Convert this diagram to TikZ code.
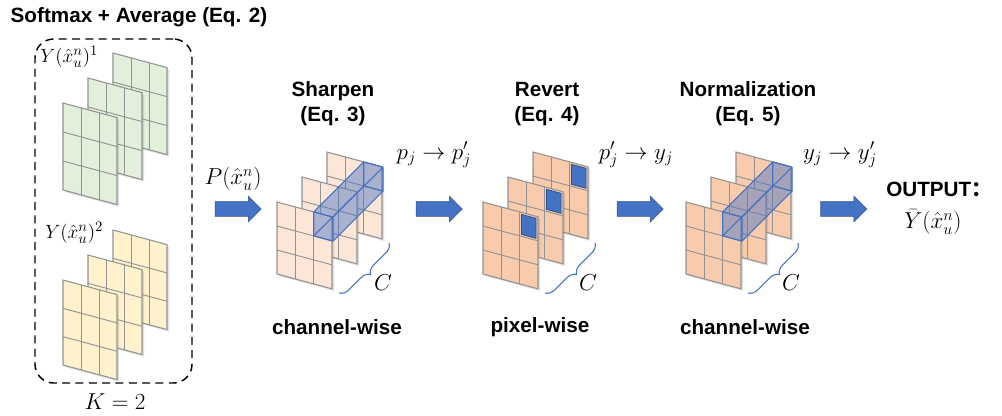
\documentclass[tikz,border=0pt]{standalone}
\usepackage{fontspec}
\setsansfont{Liberation Sans}
\newfontfamily\cjk{Noto Sans CJK SC}
\usetikzlibrary{shapes.arrows,shadows,decorations.pathreplacing}

\definecolor{sheetgreen}{HTML}{E2EFDA}
\definecolor{sheetyellow}{HTML}{FFF2CC}
\definecolor{sheetlight}{HTML}{FCE6D7}
\definecolor{sheetpeach}{HTML}{F8CBAD}
\definecolor{flowblue}{HTML}{4472C4}
\definecolor{flowborder}{HTML}{2F528F}

\tikzset{
  sheetline/.style={draw=gray!85, line width=0.8pt},
  gridline/.style={draw=gray!85, line width=0.7pt},
  groupbox/.style={draw, dashed, dash pattern=on 6pt off 4pt, line width=1.1pt, rounded corners=14pt},
  flowarrow/.style={single arrow, fill=flowblue, draw=flowborder, line width=0.4pt,
    minimum height=34.5pt, inner xsep=0pt, inner ysep=5.25pt, single arrow head extend=4.1pt},
  title/.style={font=\sffamily\bfseries\fontsize{15.5}{18.75}\selectfont, align=center},
  mathlabel/.style={font=\fontsize{18}{21}\selectfont, inner sep=0pt},
  smallmath/.style={font=\fontsize{15}{18}\selectfont, inner sep=0pt},
  bracec/.style={decorate, decoration={brace, amplitude=7pt}, draw=flowblue, line width=0.8pt},
}

% one sheet: top-left corner, width, height, fill
\newcommand{\sheet}[4]{%
  \begin{scope}[shift={#1}]
    \filldraw[sheetline, fill=#4, drop shadow={opacity=0.25,shadow xshift=1.5pt,shadow yshift=-1.5pt}]
      (0,0) -- (#2,0.27*#2) -- (#2,0.27*#2+#3) -- (0,#3) -- cycle;
    \foreach \i in {1,2} {
      \draw[gridline] (\i*#2/3,0.09*\i*#2) -- ++(0,#3);
      \draw[gridline] (0,\i*#3/3) -- ++(#2,0.27*#2);
    }
  \end{scope}}

% three sheets, back one first
\newcommand{\stack}[5]{%
  \sheet{(#1+50,#2-50)}{#3}{#4}{#5}
  \sheet{(#1+25,#2-25)}{#3}{#4}{#5}
  \sheet{(#1,#2)}{#3}{#4}{#5}}

% see-through bar through the top-right cell of every sheet
\newcommand{\tube}[2]{%
  \begin{scope}[shift={(#1,#2)}]
    \coordinate (ftl) at (36.7,9.9);  \coordinate (ftr) at (56,15.1);
    \coordinate (fbr) at (56,39.1);  \coordinate (fbl) at (36.7,33.9);
    \coordinate (btl) at (86.7,-40.1); \coordinate (btr) at (106,-34.9);
    \coordinate (bbr) at (106,-10.9); \coordinate (bbl) at (86.7,-16.1);
    \fill[flowblue, fill opacity=0.45] (fbl) -- (ftl) -- (btl) -- (btr) -- (bbr) -- (fbr) -- cycle;
    \draw[flowblue, line width=0.9pt, line join=round]
      (ftl) -- (ftr) -- (fbr) -- (fbl) -- cycle
      (btl) -- (btr) -- (bbr) -- (bbl) -- cycle
      (ftl) -- (btl) (ftr) -- (btr) (fbr) -- (bbr) (fbl) -- (bbl);
  \end{scope}}

% one filled pixel on a sheet
\newcommand{\markcell}[2]{%
  \filldraw[fill=flowblue, draw=flowborder, line width=0.6pt, shift={(#1,#2)}]
    (38.5,12.4) -- (53,16.3) -- (53,36.3) -- (38.5,32.4) -- cycle;}

\begin{document}
\begin{tikzpicture}[x=0.75pt,y=-0.75pt]
  \useasboundingbox (0,0) rectangle (1002,415);

  % K candidate maps
  \node[title, anchor=west] (avg) at (6,17) {Softmax + Average (Eq. 2)};
  \node[groupbox, minimum width=117.75pt, minimum height=258pt] (group) at (113.5,211) {};
  \stack{63}{103}{54}{87}{sheetgreen}
  \stack{63}{280}{54}{85}{sheetyellow}
  \node[smallmath, anchor=west] (yone) at (40,57) {$Y(\hat{x}_u^n)^1$};
  \node[smallmath, anchor=west] (ytwo) at (45,233) {$Y(\hat{x}_u^n)^2$};
  \node[mathlabel, font=\fontsize{19}{22}\selectfont] (kval) at (115,402) {$K=2$};

  % sharpen
  \node[flowarrow] (arr1) at (234.5,209) {};
  \node[mathlabel] (pval) at (233,179) {$P(\hat{x}_u^n)$};
  \node[title] (sharp) at (333,104) {Sharpen\\(Eq. 3)};
  \stack{277}{202}{55}{72}{sheetlight}
  \tube{277}{202}
  \draw[bracec] (389,243) -- (339,293);
  \node[mathlabel] (c1) at (383,283) {$C$};
  \node[title] (cw1) at (337,327) {channel-wise};
  \node[mathlabel] (pp) at (434,155) {$p_j \rightarrow p'_j$};

  % revert
  \node[flowarrow] (arr2) at (435.5,209) {};
  \node[title] (rev) at (547,104) {Revert\\(Eq. 4)};
  \stack{483}{202}{55}{72}{sheetpeach}
  \markcell{533}{152}
  \markcell{508}{177}
  \markcell{483}{202}
  \draw[bracec] (595,243) -- (545,293);
  \node[mathlabel] (c2) at (588,283) {$C$};
  \node[title] (pw) at (540,327) {pixel-wise};
  \node[mathlabel] (py) at (636,155) {$p'_j \rightarrow y_j$};

  % normalization
  \node[flowarrow] (arr3) at (636.5,209) {};
  \node[title] (norm) at (748,104) {Normalization\\(Eq. 5)};
  \stack{686}{202}{55}{72}{sheetpeach}
  \tube{686}{202}
  \draw[bracec] (798,243) -- (748,293);
  \node[mathlabel] (c3) at (791,283) {$C$};
  \node[title] (cw2) at (745,327) {channel-wise};
  \node[mathlabel] (yy) at (840,155) {$y_j \rightarrow y'_j$};

  % output
  \node[flowarrow] (arr4) at (840,209) {};
  \node[title, anchor=west, inner sep=0pt] (out) at (886,189) {OUTPUT{\cjk ：}};
  \node[mathlabel] (ybar) at (933,222) {$\bar{Y}(\hat{x}_u^n)$};
\end{tikzpicture}
\end{document}
